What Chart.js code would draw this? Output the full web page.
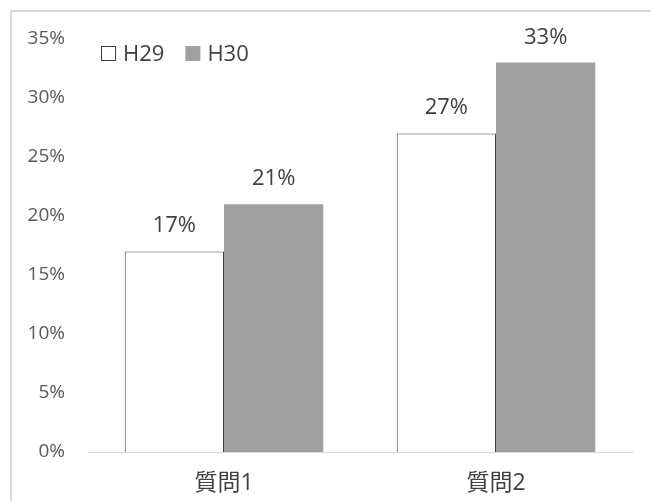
<!DOCTYPE html>
<html>
<head>
<meta charset="utf-8">
<script src="https://cdn.jsdelivr.net/npm/chart.js@4/dist/chart.umd.min.js"></script>
<style>
  html, body { margin: 0; padding: 0; background: #fff; }
  #wrap { width: 651px; height: 501px; }
</style>
</head>
<body>
<div id="wrap"><canvas id="chart" width="651" height="501"></canvas></div>
<script>
var categories = ['質問1', '質問2'];
var seriesNames = ['H29', 'H30'];
var h29Values = [17, 27];
var h30Values = [21, 33];
var yTicks = [0, 5, 10, 15, 20, 25, 30, 35];

var FONT = '"Open Sans", "Noto Sans CJK JP", sans-serif';
var TEXT = '#404040';
var H29_FILL = '#ffffff';
var H29_EDGE = '#404040';
var H30_FILL = '#a0a0a0';

// light frame along the top and left edge, plus white background
var framePlugin = {
  id: 'frame',
  beforeDraw: function(chart) {
    var ctx = chart.ctx;
    ctx.save();
    ctx.fillStyle = '#fff';
    ctx.fillRect(0, 0, chart.width, chart.height);
    ctx.strokeStyle = '#d9d9d9';
    ctx.lineWidth = 2;
    ctx.beginPath();
    ctx.moveTo(11, chart.height);
    ctx.lineTo(11, 11);
    ctx.lineTo(chart.width, 11);
    ctx.stroke();
    ctx.restore();
  }
};

// value labels above each bar
var valueLabels = {
  id: 'valueLabels',
  afterDatasetsDraw: function(chart) {
    var ctx = chart.ctx;
    ctx.save();
    ctx.font = '22px ' + FONT;
    ctx.fillStyle = TEXT;
    ctx.textAlign = 'center';
    ctx.textBaseline = 'alphabetic';
    chart.data.datasets.forEach(function(ds, i) {
      chart.getDatasetMeta(i).data.forEach(function(bar, j) {
        ctx.fillText(ds.data[j] + '%', bar.x, bar.y - 19);
      });
    });
    ctx.restore();
  }
};

// one-row legend in the top-left corner of the plot
var rowLegend = {
  id: 'rowLegend',
  afterDraw: function(chart) {
    var ctx = chart.ctx;
    var x = chart.chartArea.left + 13;
    var base = chart.chartArea.top + 22;
    ctx.save();
    ctx.font = '22px ' + FONT;
    ctx.textBaseline = 'alphabetic';
    ctx.textAlign = 'left';
    chart.data.datasets.forEach(function(ds) {
      ctx.fillStyle = ds.backgroundColor;
      ctx.fillRect(x, base - 15, 15, 15);
      if (ds.borderWidth && ds.borderWidth.top) {
        ctx.strokeStyle = ds.borderColor;
        ctx.lineWidth = 1;
        ctx.strokeRect(x + 0.5, base - 14.5, 14, 14);
      }
      ctx.fillStyle = TEXT;
      ctx.fillText(ds.label, x + 22, base);
      x += 22 + ctx.measureText(ds.label).width + 21;
    });
    ctx.restore();
  }
};

new Chart(document.getElementById('chart'), {
  type: 'bar',
  data: {
    labels: categories,
    datasets: [
      {
        label: seriesNames[0],
        data: h29Values,
        backgroundColor: H29_FILL,
        borderColor: H29_EDGE,
        borderWidth: { top: 1, left: 1, right: 1, bottom: 0 },
        borderSkipped: 'bottom'
      },
      {
        label: seriesNames[1],
        data: h30Values,
        backgroundColor: H30_FILL,
        borderWidth: 0
      }
    ]
  },
  options: {
    responsive: false,
    animation: false,
    layout: { padding: { left: 0, top: 39, right: 19, bottom: 0 } },
    datasets: { bar: { categoryPercentage: 0.73, barPercentage: 1 } },
    plugins: {
      legend: { display: false },
      tooltip: { enabled: false }
    },
    scales: {
      x: {
        grid: { display: false, drawTicks: false },
        border: { display: true, color: '#d9d9d9', width: 1 },
        ticks: { font: { family: FONT, size: 23 }, color: TEXT, padding: 18 },
        afterFit: function(axis) { axis.height = 49; }
      },
      y: {
        min: 0,
        max: 35,
        grid: { display: false, drawTicks: false },
        border: { display: false },
        afterBuildTicks: function(axis) {
          axis.ticks = yTicks.map(function(v) { return { value: v }; });
        },
        ticks: {
          font: { family: FONT, size: 19 },
          color: '#595959',
          padding: 23,
          callback: function(v) { return v + '%'; }
        },
        afterFit: function(axis) { axis.width = 88; }
      }
    }
  },
  plugins: [framePlugin, valueLabels, rowLegend]
});
</script>
</body>
</html>
